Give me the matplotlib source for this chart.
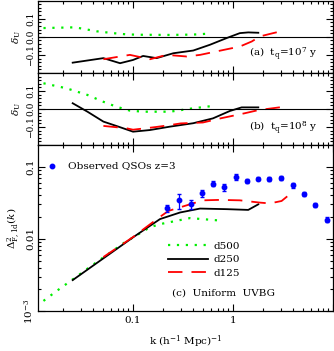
"""Flux power spectrum residuals and 1D flux power (three stacked panels)."""

import matplotlib

matplotlib.use("Agg")
import matplotlib.pyplot as plt
from matplotlib.ticker import FixedLocator, FixedFormatter, LogLocator, NullFormatter, MultipleLocator

plt.rcParams["font.family"] = "DejaVu Serif"
plt.rcParams["mathtext.fontset"] = "dejavuserif"
plt.rcParams["font.size"] = 7.5

# ---- panel (a): t_q = 1e7 y
a_k_d500 = [0.0127, 0.0263, 0.0434, 0.063, 0.0865, 0.117, 0.234, 0.40, 0.61]
a_d500 = [0.048, 0.052, 0.030, 0.020, 0.013, 0.011, 0.010, 0.012, 0.018]
a_k_d250 = [0.0249, 0.0505, 0.0741, 0.10, 0.126, 0.172, 0.253, 0.40, 0.589, 0.866, 1.17, 1.42, 1.79]
a_d250 = [-0.143, -0.118, -0.146, -0.128, -0.106, -0.118, -0.091, -0.076, -0.044, -0.007, 0.020, 0.024, 0.022]
a_k_d125 = [0.0505, 0.093, 0.148, 0.217, 0.344, 0.468, 0.866, 1.17, 1.54, 1.86, 2.52, 3.17]
a_d125 = [-0.124, -0.100, -0.124, -0.100, -0.109, -0.100, -0.069, -0.054, -0.026, 0.002, 0.020, 0.033]

# ---- panel (b): t_q = 1e8 y
b_k_d500 = [0.0127, 0.0216, 0.035, 0.05, 0.068, 0.093, 0.126, 0.234, 0.40, 0.63]
b_d500 = [0.143, 0.115, 0.078, 0.041, 0.013, -0.009, -0.015, -0.015, 0.004, 0.017]
b_k_d250 = [0.0249, 0.035, 0.0505, 0.068, 0.10, 0.147, 0.234, 0.40, 0.63, 0.93, 1.22, 1.79]
b_d250 = [0.032, -0.015, -0.070, -0.094, -0.126, -0.117, -0.098, -0.079, -0.052, -0.011, 0.009, 0.009]
b_k_d125 = [0.0505, 0.086, 0.10, 0.17, 0.23, 0.30, 0.50, 0.75, 1.30, 1.80, 3.30]
b_d125 = [-0.094, -0.107, -0.115, -0.100, -0.090, -0.080, -0.075, -0.052, -0.024, -0.006, 0.013]

# ---- panel (c): uniform UVBG
c_k_d500 = [0.0127, 0.0169, 0.0257, 0.0344, 0.045, 0.0813, 0.148, 0.186, 0.37, 0.72]
c_d500 = [0.00138, 0.00186, 0.00283, 0.0038, 0.00495, 0.0088, 0.0145, 0.0160, 0.0194, 0.018]
c_k_d250 = [0.0249, 0.10, 0.186, 0.295, 0.468, 0.866, 1.42, 1.79]
c_d250 = [0.00268, 0.0105, 0.0188, 0.0232, 0.0263, 0.0258, 0.0252, 0.0301]
c_k_d125 = [0.0505, 0.10, 0.186, 0.226, 0.50, 0.74, 1.17, 1.86, 2.34, 3.06, 3.58]
c_d125 = [0.0056, 0.0106, 0.0202, 0.0244, 0.0342, 0.0347, 0.0342, 0.0318, 0.031, 0.0335, 0.040]

qso_k = [0.220, 0.288, 0.378, 0.486, 0.627, 0.818, 1.07, 1.39, 1.79, 2.31, 3.02, 3.95, 5.13, 6.61, 8.65]
qso_p = [0.0264, 0.0342, 0.0302, 0.0427, 0.0585, 0.052, 0.0723, 0.0637, 0.0685, 0.067, 0.070, 0.055, 0.0418, 0.0299, 0.0184]
qso_err = [0.003, 0.008, 0.004, 0.005, 0.005, 0.006, 0.007, 0.004, 0.004, 0.004, 0.005, 0.004, 0.003, 0.002, 0.0015]

GREEN = "#00ee00"
RED = "#ff0000"
BLUE = "#0000ff"

W, H = 334, 351
fig = plt.figure(figsize=(W / 100, H / 100), dpi=100)


def box(top, bottom, left=38, right=333):
    return [left / W, 1 - bottom / H, (right - left) / W, (bottom - top) / H]


ax_a = fig.add_axes(box(0.5, 73))
ax_b = fig.add_axes(box(73, 145))
ax_c = fig.add_axes(box(145, 311))


def style(ax):
    ax.set_xscale("log")
    ax.set_xlim(0.0112, 10)
    ax.tick_params(which="both", direction="in", top=True, right=True, width=0.8)
    ax.tick_params(which="major", length=5)
    ax.tick_params(which="minor", length=2.5)
    for s in ax.spines.values():
        s.set_linewidth(0.9)


dot = dict(color=GREEN, lw=1.6, ls=(0, (1, 3)))
solid = dict(color="black", lw=1.3)
dash = dict(color=RED, lw=1.3, ls=(0, (8, 5)))

for ax, panel in ((ax_a, "a"), (ax_b, "b")):
    style(ax)
    d = globals()
    ax.plot(d[panel + "_k_d500"], d[panel + "_d500"], **dot)
    ax.plot(d[panel + "_k_d250"], d[panel + "_d250"], **solid)
    ax.plot(d[panel + "_k_d125"], d[panel + "_d125"], **dash)
    ax.axhline(0, color="black", lw=0.8)
    ax.set_ylim(-0.2, 0.2)
    ax.yaxis.set_major_locator(FixedLocator([-0.1, 0.0, 0.1]))
    ax.yaxis.set_major_formatter(FixedFormatter(["\u22120.1", "0.0", "0.1"]))
    ax.yaxis.set_minor_locator(MultipleLocator(0.02))
    ax.xaxis.set_major_formatter(NullFormatter())
    ax.xaxis.set_minor_formatter(NullFormatter())
    ax.tick_params(axis="y", labelsize=6.5)
    ax.set_ylabel(r"$\delta_{\rm U}$", labelpad=2)

ax_a.text(0.946, 0.27, r"(a)  $\rm t_q$=10$^7$ y", transform=ax_a.transAxes, ha="right", va="center")
ax_b.text(0.946, 0.236, r"(b)  $\rm t_q$=10$^8$ y", transform=ax_b.transAxes, ha="right", va="center")

style(ax_c)
ax_c.set_yscale("log")
ax_c.set_ylim(1e-3, 0.2)
ax_c.plot(c_k_d500, c_d500, label="d500", **dot)
ax_c.plot(c_k_d250, c_d250, label="d250", **solid)
ax_c.plot(c_k_d125, c_d125, label="d125", **dash)
ax_c.errorbar(qso_k, qso_p, yerr=qso_err, fmt="o", color=BLUE, ms=3.2, capsize=1.5, elinewidth=0.9)
# key marker for the observed points
ax_c.plot([0.047], [0.873], "o", color=BLUE, ms=3.2, transform=ax_c.transAxes)
ax_c.text(0.102, 0.873, "Observed QSOs z=3", transform=ax_c.transAxes, ha="left", va="center")
ax_c.text(0.454, 0.108, "(c)  Uniform  UVBG", transform=ax_c.transAxes, ha="left", va="center")
ax_c.legend(loc="upper left", bbox_to_anchor=(0.44, 0.42), frameon=False, handlelength=3.9,
            handletextpad=0.5, labelspacing=0.42, borderpad=0, borderaxespad=0)

ax_c.yaxis.set_major_locator(FixedLocator([1e-3, 1e-2, 1e-1]))
ax_c.yaxis.set_major_formatter(FixedFormatter([r"10$^{-3}$", "0.01", "0.1"]))
ax_c.yaxis.set_minor_locator(LogLocator(base=10, subs=range(2, 10)))
ax_c.yaxis.set_minor_formatter(NullFormatter())
ax_c.xaxis.set_major_locator(FixedLocator([0.1, 1, 10]))
ax_c.xaxis.set_major_formatter(FixedFormatter(["0.1", "1", ""]))
ax_c.xaxis.set_minor_formatter(NullFormatter())
ax_c.set_ylabel(r"$\Delta^2_{\rm F,1d}(k)$", labelpad=1)
ax_c.set_xlabel(r"k (h$^{-1}$ Mpc)$^{-1}$", labelpad=6)

for ax in (ax_a, ax_b, ax_c):
    ax.xaxis.set_major_locator(FixedLocator([0.1, 1, 10]))
    ax.xaxis.set_minor_locator(LogLocator(base=10, subs=range(2, 10)))
    for lab in ax.get_yticklabels():
        lab.set_rotation(90)
        lab.set_va("center")
    ax.tick_params(axis="y", pad=2)

fig.savefig("out.png", dpi=100)
